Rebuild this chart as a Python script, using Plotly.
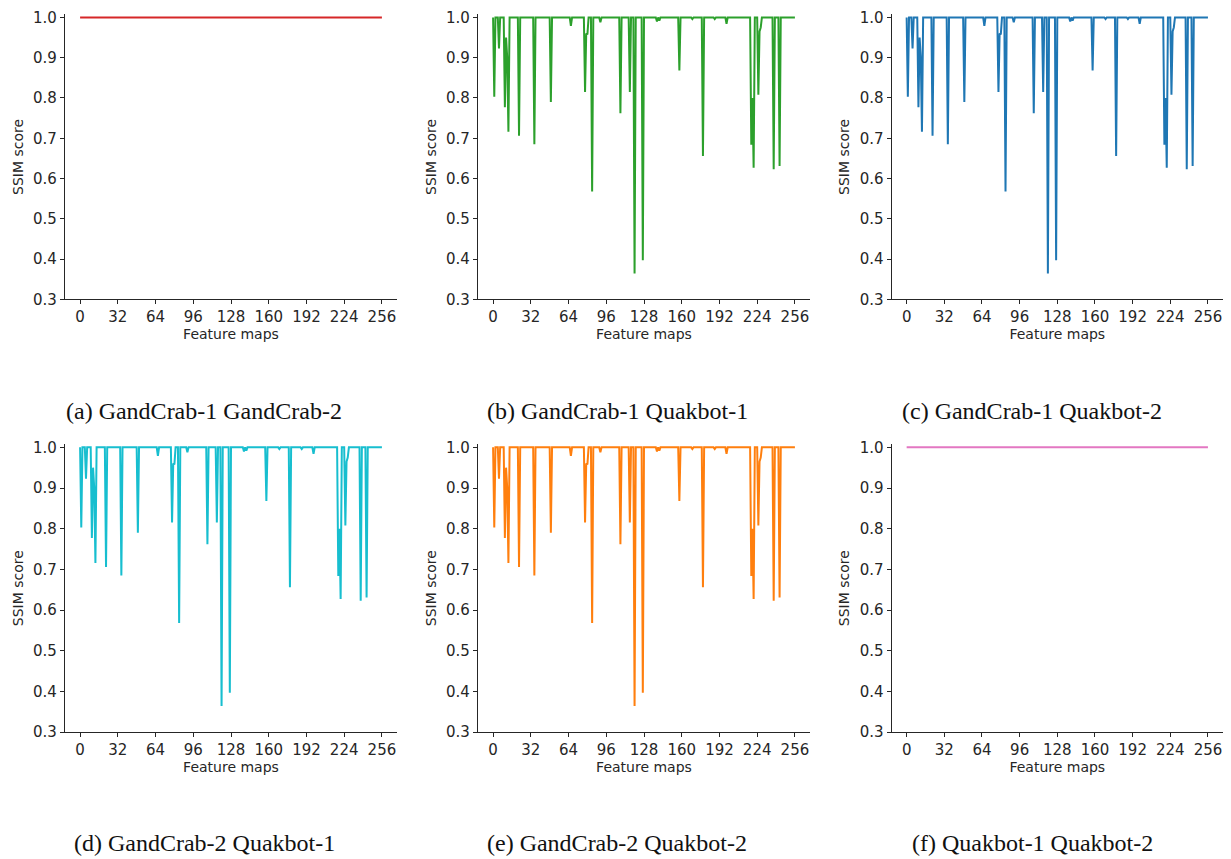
import plotly.graph_objects as go

# ---------------- data ----------------
feature_maps = list(range(257))

# identical pairs (panels a, f)
ssim_gandcrab1_gandcrab2 = [1.0] * 257
ssim_quakbot1_quakbot2 = [1.0] * 257

# cross-family pairs (panels b-e share the same curve)
ssim_cross_family = [
    1.0, 0.803, 1.0, 1.0, 1.0, 0.923, 1.0, 1.0, 1.0, 1.0, 0.777, 0.95, 0.90, 0.716, 1.0, 1.0,
    1.0, 1.0, 1.0, 1.0, 1.0, 1.0, 0.706, 1.0, 1.0, 1.0, 1.0, 1.0, 1.0, 1.0, 1.0, 1.0,
    1.0, 1.0, 1.0, 0.685, 1.0, 1.0, 1.0, 1.0, 1.0, 1.0, 1.0, 1.0, 1.0, 1.0, 1.0, 1.0,
    1.0, 0.790, 1.0, 1.0, 1.0, 1.0, 1.0, 1.0, 1.0, 1.0, 1.0, 1.0, 1.0, 1.0, 1.0, 1.0,
    1.0, 1.0, 0.979, 1.0, 1.0, 1.0, 1.0, 1.0, 1.0, 1.0, 1.0, 1.0, 1.0, 1.0, 0.815, 0.96,
    0.958, 1.0, 1.0, 1.0, 0.568, 1.0, 1.0, 1.0, 1.0, 1.0, 1.0, 0.988, 1.0, 1.0, 1.0, 1.0,
    1.0, 1.0, 1.0, 1.0, 1.0, 1.0, 1.0, 1.0, 1.0, 1.0, 1.0, 1.0, 0.762, 1.0, 1.0, 1.0,
    1.0, 1.0, 1.0, 1.0, 0.815, 1.0, 1.0, 1.0, 0.364, 1.0, 1.0, 1.0, 1.0, 1.0, 1.0, 0.397,
    1.0, 1.0, 1.0, 1.0, 1.0, 1.0, 1.0, 1.0, 1.0, 1.0, 1.0, 0.990, 1.0, 0.992, 1.0, 1.0,
    1.0, 1.0, 1.0, 1.0, 1.0, 1.0, 1.0, 1.0, 1.0, 1.0, 1.0, 1.0, 1.0, 1.0, 0.868, 1.0,
    1.0, 1.0, 1.0, 1.0, 1.0, 1.0, 1.0, 1.0, 1.0, 0.996, 1.0, 1.0, 1.0, 1.0, 1.0, 1.0,
    1.0, 1.0, 0.656, 1.0, 1.0, 1.0, 1.0, 1.0, 1.0, 1.0, 1.0, 1.0, 0.996, 1.0, 1.0, 1.0,
    1.0, 1.0, 1.0, 1.0, 1.0, 1.0, 0.984, 1.0, 1.0, 1.0, 1.0, 1.0, 1.0, 1.0, 1.0, 1.0,
    1.0, 1.0, 1.0, 1.0, 1.0, 1.0, 1.0, 1.0, 1.0, 1.0, 1.0, 0.684, 0.80, 0.627, 1.0, 1.0,
    1.0, 0.808, 0.965, 0.975, 1.0, 1.0, 1.0, 1.0, 1.0, 1.0, 1.0, 1.0, 1.0, 1.0, 0.623, 1.0,
    1.0, 1.0, 1.0, 0.631, 1.0, 1.0, 1.0, 1.0, 1.0, 1.0, 1.0, 1.0, 1.0, 1.0, 1.0, 1.0,
    1.0,
]
ssim_gandcrab1_quakbot1 = ssim_cross_family
ssim_gandcrab1_quakbot2 = ssim_cross_family
ssim_gandcrab2_quakbot1 = ssim_cross_family
ssim_gandcrab2_quakbot2 = ssim_cross_family

captions = [
    "(a) GandCrab-1 GandCrab-2",
    "(b) GandCrab-1 Quakbot-1",
    "(c) GandCrab-1 Quakbot-2",
    "(d) GandCrab-2 Quakbot-1",
    "(e) GandCrab-2 Quakbot-2",
    "(f) Quakbot-1 Quakbot-2",
]
series = [
    ssim_gandcrab1_gandcrab2,
    ssim_gandcrab1_quakbot1,
    ssim_gandcrab1_quakbot2,
    ssim_gandcrab2_quakbot1,
    ssim_gandcrab2_quakbot2,
    ssim_quakbot1_quakbot2,
]
colors = ["#d62728", "#2ca02c", "#1f77b4", "#17becf", "#ff7f0e", "#e377c2"]

x_ticks = [0, 32, 64, 96, 128, 160, 192, 224, 256]
y_ticks = [0.3, 0.4, 0.5, 0.6, 0.7, 0.8, 0.9, 1.0]

# ---------------- layout ----------------
# the page body has an 8px margin; offset everything by it
OFF = 8
W, H = 1231 - 2 * OFF, 859 - OFF
col_px = [(65, 397), (478, 810), (891.6, 1223)]
row_px = [(8.4, 298.5), (446, 739)]
caption_x_px = [204, 617, 1032]
caption_y_px = [412, 852]

fig = go.Figure()
axis_color = "#262626"
tick_font = dict(family="DejaVu Sans", size=15, color="#262626")
label_font = dict(family="DejaVu Sans", size=14, color="#262626")

annotations = []
for i in range(6):
    r, c = divmod(i, 3)
    n = i + 1
    xa = "x" if n == 1 else f"x{n}"
    ya = "y" if n == 1 else f"y{n}"
    fig.add_trace(go.Scatter(
        x=feature_maps, y=series[i], mode="lines",
        line=dict(color=colors[i], width=2),
        xaxis=xa, yaxis=ya, showlegend=False,
    ))
    x0, x1 = col_px[c]
    y0, y1 = row_px[r]
    xkey = "xaxis" if n == 1 else f"xaxis{n}"
    ykey = "yaxis" if n == 1 else f"yaxis{n}"
    fig.update_layout(**{
        xkey: dict(
            domain=[(x0 - OFF) / W, min(1.0, (x1 - OFF) / W)], anchor=ya,
            range=[-12.8, 268.8], tickmode="array", tickvals=x_ticks,
            showgrid=False, zeroline=False, showline=True, linecolor=axis_color,
            linewidth=1.2, ticks="outside", ticklen=4, tickwidth=1.2,
            tickcolor=axis_color, tickfont=tick_font,
            title=dict(text="Feature maps", font=label_font, standoff=3),
        ),
        ykey: dict(
            domain=[1 - (y1 - OFF) / H, 1 - (y0 - OFF) / H], anchor=xa,
            range=[0.3, 1.0075], tickmode="array", tickvals=y_ticks,
            tickformat=".1f",
            showgrid=False, zeroline=False, showline=True, linecolor=axis_color,
            linewidth=1.2, ticks="outside", ticklen=4, tickwidth=1.2,
            tickcolor=axis_color, tickfont=tick_font,
            title=dict(text="SSIM score", font=label_font, standoff=6),
        ),
    })
    annotations.append(dict(
        text=captions[i], x=(caption_x_px[c] - OFF) / W,
        y=1 - (caption_y_px[r] - OFF) / H,
        xref="paper", yref="paper", showarrow=False,
        xanchor="center", yanchor="middle",
        font=dict(family="Liberation Serif", size=24, color="#111111"),
    ))

fig.update_layout(
    width=W, height=H,
    margin=dict(l=0, r=0, t=0, b=0),
    paper_bgcolor="white", plot_bgcolor="white",
    annotations=annotations,
)

fig.write_html("out.html")
